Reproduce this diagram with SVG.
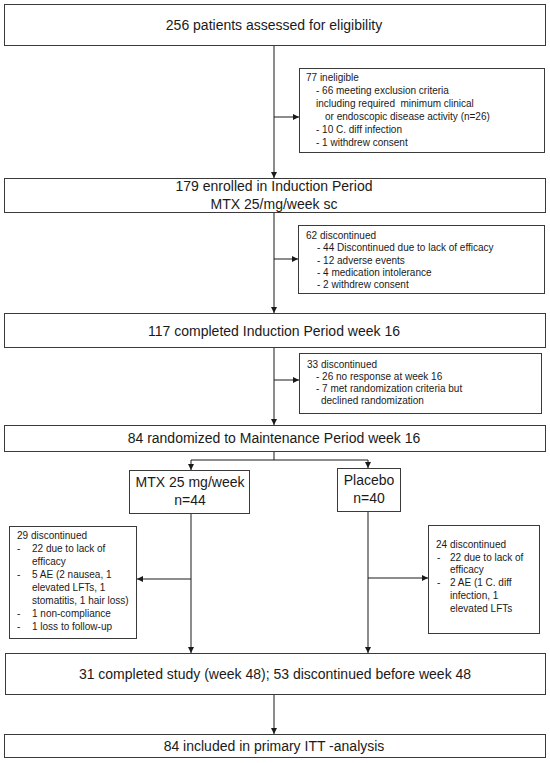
<svg xmlns="http://www.w3.org/2000/svg" width="550" height="763" viewBox="0 0 550 763">
<style>
  .box { fill: #ffffff; stroke: #3a3a3a; stroke-width: 1; }
  .main { font-family: "Liberation Sans", Arial, sans-serif; font-size: 14px; fill: #1a1a1a; text-anchor: middle; }
  .small { font-family: "Liberation Sans", Arial, sans-serif; font-size: 10px; fill: #1a1a1a; }
  .line { fill: none; stroke: #1a1a1a; stroke-width: 1; }
</style>
<defs>
  <marker id="arr" viewBox="0 0 10 10" refX="10" refY="5" markerWidth="6" markerHeight="6" markerUnits="userSpaceOnUse" orient="auto">
    <path d="M0,0 L10,5 L0,10 Z" fill="#1a1a1a"/>
  </marker>
</defs>
<rect width="550" height="763" fill="#ffffff"/>

<g id="connectors">
  <line class="line" x1="274" y1="46" x2="274" y2="178" marker-end="url(#arr)"/>
  <line class="line" x1="274" y1="117" x2="299" y2="117" marker-end="url(#arr)"/>
  <line class="line" x1="274" y1="213" x2="274" y2="313" marker-end="url(#arr)"/>
  <line class="line" x1="274" y1="259" x2="298" y2="259" marker-end="url(#arr)"/>
  <line class="line" x1="274" y1="348" x2="274" y2="425" marker-end="url(#arr)"/>
  <line class="line" x1="274" y1="380" x2="299" y2="380" marker-end="url(#arr)"/>
  <polyline class="line" points="274,452 274,460 191,460 191,470" marker-end="url(#arr)"/>
  <polyline class="line" points="274,460 368,460 368,468" marker-end="url(#arr)"/>
  <line class="line" x1="191" y1="514" x2="191" y2="653" marker-end="url(#arr)"/>
  <line class="line" x1="191" y1="579" x2="137" y2="579" marker-end="url(#arr)"/>
  <line class="line" x1="368" y1="512" x2="368" y2="653" marker-end="url(#arr)"/>
  <line class="line" x1="368" y1="578" x2="428" y2="578" marker-end="url(#arr)"/>
  <line class="line" x1="274" y1="695" x2="274" y2="734" marker-end="url(#arr)"/>
</g>

<g id="assessed">
  <rect class="box" x="4.5" y="4.5" width="541" height="41"/>
  <text class="main" x="274" y="30">256 patients assessed for eligibility</text>
</g>

<g id="ineligible">
  <rect class="box" x="299.5" y="68.5" width="245" height="84"/>
  <text class="small" x="306" y="81">77 ineligible</text>
  <text class="small" x="316" y="94">- 66 meeting exclusion criteria</text>
  <text class="small" x="316" y="107" xml:space="preserve">including required  minimum clinical</text>
  <text class="small" x="325" y="120">or endoscopic disease activity (n=26)</text>
  <text class="small" x="316" y="133">- 10 C. diff infection</text>
  <text class="small" x="316" y="146">- 1 withdrew consent</text>
</g>

<g id="enrolled">
  <rect class="box" x="4.5" y="178.5" width="541" height="34"/>
  <text class="main" x="274" y="191">179 enrolled in Induction Period</text>
  <text class="main" x="274" y="209">MTX 25/mg/week sc</text>
</g>

<g id="disc-induction">
  <rect class="box" x="298.5" y="225.5" width="246" height="68"/>
  <text class="small" x="306" y="239">62 discontinued</text>
  <text class="small" x="317" y="251">- 44 Discontinued due to lack of efficacy</text>
  <text class="small" x="317" y="264">- 12 adverse events</text>
  <text class="small" x="317" y="276">- 4 medication intolerance</text>
  <text class="small" x="317" y="288">- 2 withdrew consent</text>
</g>

<g id="completed-induction">
  <rect class="box" x="4.5" y="313.5" width="541" height="34"/>
  <text class="main" x="274" y="336">117 completed Induction Period week 16</text>
</g>

<g id="disc-week16">
  <rect class="box" x="299.5" y="353.5" width="242" height="60"/>
  <text class="small" x="307" y="368">33 discontinued</text>
  <text class="small" x="316" y="380">- 26 no response at week 16</text>
  <text class="small" x="316" y="392">- 7 met randomization criteria but</text>
  <text class="small" x="321" y="404">declined randomization</text>
</g>

<g id="randomized">
  <rect class="box" x="4.5" y="425.5" width="541" height="26"/>
  <text class="main" x="274" y="443">84 randomized to Maintenance Period week 16</text>
</g>

<g id="mtx">
  <rect class="box" x="129.5" y="470.5" width="120" height="43"/>
  <text class="main" x="190" y="487">MTX 25 mg/week</text>
  <text class="main" x="190" y="505">n=44</text>
</g>

<g id="placebo">
  <rect class="box" x="337.5" y="468.5" width="63" height="43"/>
  <text class="main" x="369" y="485">Placebo</text>
  <text class="main" x="369" y="503">n=40</text>
</g>

<g id="disc-mtx">
  <rect class="box" x="9.5" y="526.5" width="127" height="112"/>
  <text class="small" x="17" y="539">29 discontinued</text>
  <text class="small" x="17" y="552">-</text>
  <text class="small" x="32" y="552">22 due to lack of</text>
  <text class="small" x="32" y="565">efficacy</text>
  <text class="small" x="17" y="578">-</text>
  <text class="small" x="32" y="578">5 AE (2 nausea, 1</text>
  <text class="small" x="32" y="591">elevated LFTs, 1</text>
  <text class="small" x="32" y="604">stomatitis, 1 hair loss)</text>
  <text class="small" x="17" y="617">-</text>
  <text class="small" x="32" y="617">1 non-compliance</text>
  <text class="small" x="17" y="630">-</text>
  <text class="small" x="32" y="630">1 loss to follow-up</text>
</g>

<g id="disc-placebo">
  <rect class="box" x="428.5" y="525.5" width="111" height="108"/>
  <text class="small" x="436" y="548">24 discontinued</text>
  <text class="small" x="437" y="561">-</text>
  <text class="small" x="450" y="561">22 due to lack of</text>
  <text class="small" x="450" y="573">efficacy</text>
  <text class="small" x="437" y="586">-</text>
  <text class="small" x="450" y="586">2 AE (1 C. diff</text>
  <text class="small" x="450" y="599">infection, 1</text>
  <text class="small" x="450" y="612">elevated LFTs</text>
</g>

<g id="completed-study">
  <rect class="box" x="5.5" y="653.5" width="540" height="41"/>
  <text class="main" x="275" y="679">31 completed study (week 48); 53 discontinued before week 48</text>
</g>

<g id="itt">
  <rect class="box" x="4.5" y="734.5" width="541" height="23"/>
  <text class="main" x="274" y="751">84 included in primary ITT -analysis</text>
</g>
</svg>
